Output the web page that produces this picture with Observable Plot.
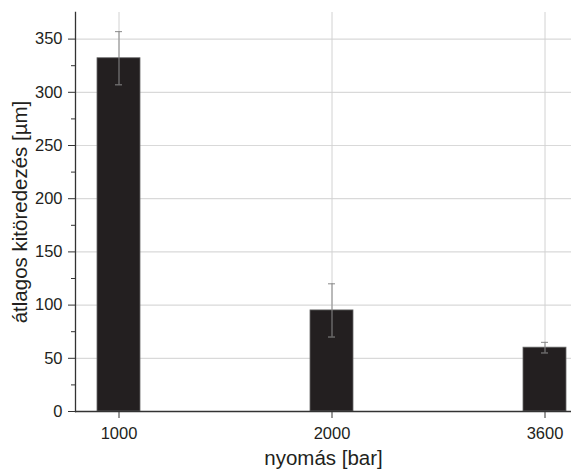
<!DOCTYPE html>
<html><head><meta charset="utf-8">
<script src="https://cdn.jsdelivr.net/npm/d3@7"></script>
<script src="https://cdn.jsdelivr.net/npm/@observablehq/plot@0.6"></script>
<style>body{margin:0;background:#fff} svg{display:block}</style>
</head><body><div id="chart"></div>
<script>
const pressures = ["1000", "2000", "3600"];
const means = [332, 95, 60];
const errors = [25, 25, 5];
const yMajorTicks = [0, 50, 100, 150, 200, 250, 300, 350];
const yMinorTicks = [25, 75, 125, 175, 225, 275, 325];
const xLabel = "nyomás [bar]";
const yLabel = "átlagos kitöredezés [µm]";

const data = pressures.map((p, i) => ({p, m: means[i], lo: means[i] - errors[i], hi: means[i] + errors[i]}));
const errColor = "#8a8a8a";
const axisColor = "#333";

const plot = Plot.plot({
  width: 571, height: 471,
  marginLeft: 75, marginRight: 0, marginTop: 12, marginBottom: 60,
  style: {fontFamily: "'Liberation Sans', Arial, sans-serif", background: "#fff", color: "#231f20"},
  x: {type: "band", domain: pressures, paddingInner: 0.796, paddingOuter: 0, insetLeft: 21, insetRight: 4},
  y: {domain: [0, 375]},
  marks: [
    Plot.gridY(yMajorTicks.filter(d => d > 0), {stroke: "#d9d9d9", strokeOpacity: 1, strokeWidth: 1.2}),
    Plot.gridX(pressures, {stroke: "#d2d2d2", strokeOpacity: 1}),
    Plot.barY(data, {x: "p", y: "m", fill: "#231f20", stroke: "#666", strokeWidth: 0.8}),
    Plot.ruleX(data, {x: "p", y1: "lo", y2: "hi", stroke: errColor}),
    Plot.tickY(data, {x: "p", y: "lo", stroke: errColor, insetLeft: 18, insetRight: 18}),
    Plot.tickY(data, {x: "p", y: "hi", stroke: errColor, insetLeft: 18, insetRight: 18}),
    Plot.ruleY([0], {stroke: axisColor, strokeWidth: 1.3}),
    Plot.frame({anchor: "left", stroke: axisColor, strokeWidth: 1.3}),
    Plot.axisY(yMajorTicks, {tickSize: 7, tickPadding: 6, fontSize: 16.5, label: null, stroke: axisColor}),
    Plot.axisY(yMinorTicks, {tickSize: 4, tickFormat: () => "", label: null, stroke: axisColor}),
    Plot.axisY([], {label: yLabel, labelAnchor: "center", labelOffset: 63, fontSize: 20.5, labelArrow: "none"}),
    Plot.axisX(pressures, {tickSize: 7, tickPadding: 9, fontSize: 16.5, label: null, stroke: axisColor}),
    Plot.axisX([], {label: xLabel, labelAnchor: "center", labelOffset: 53, fontSize: 20.5, labelArrow: "none"})
  ]
});
document.getElementById("chart").append(plot);
</script>
</body></html>
